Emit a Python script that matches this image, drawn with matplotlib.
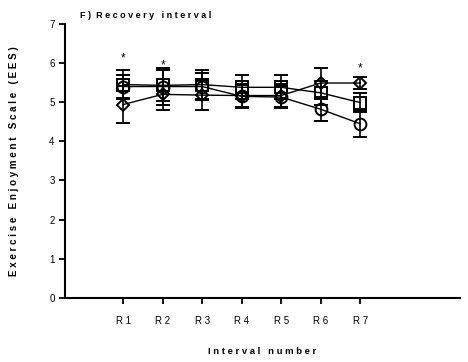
import matplotlib
matplotlib.use("Agg")
import matplotlib.pyplot as plt
import numpy as np

plt.rcParams['font.family'] = ['Liberation Sans', 'DejaVu Sans']

# data
intervals = ['R 1', 'R 2', 'R 3', 'R 4', 'R 5', 'R 6', 'R 7']
square_mean = [5.45, 5.43, 5.45, 5.38, 5.38, 5.24, 4.99]
square_err = [0.37, 0.39, 0.38, 0.31, 0.31, 0.30, 0.25]
circle_mean = [5.40, 5.40, 5.40, 5.15, 5.13, 4.82, 4.45]
circle_err = [0.30, 0.48, 0.35, 0.30, 0.28, 0.30, 0.34]
diamond_mean = [4.94, 5.20, 5.18, 5.17, 5.17, 5.49, 5.49]
diamond_err = [0.48, 0.40, 0.37, 0.30, 0.30, 0.39, 0.16]
star_idx = [0, 1, 6]
star_y = [6.12, 5.94, 5.87]

x = np.arange(1, len(intervals) + 1)

fig = plt.figure(figsize=(4.68, 3.62), dpi=100)
ax = fig.add_axes([0.139, 0.177, 0.844, 0.757])

series = [(square_mean, square_err, 's', 8),
          (circle_mean, circle_err, 'o', 8.5),
          (diamond_mean, diamond_err, 'D', 6.5)]
for mean, err, mk, ms in series:
    ax.errorbar(x, mean, yerr=err, color='black', lw=1.0, marker=mk, ms=ms,
                mfc='none', mec='black', mew=1.4, capsize=5, capthick=1.2,
                elinewidth=1.2)

for i, y in zip(star_idx, star_y):
    ax.text(x[i], y, '*', ha='center', va='center', fontsize=8.5)

ax.set_xlim(-0.47, 9.53)
ax.set_ylim(0, 7)
ax.set_xticks(x)
ax.set_xticklabels(intervals, fontsize=7)
ax.set_yticks(range(0, 8))
ax.tick_params(axis='y', labelsize=7, length=4, width=1.3, direction='out')
ax.tick_params(axis='x', length=4, width=1.3, direction='out', pad=9)
for side in ['top', 'right']:
    ax.spines[side].set_visible(False)
for side in ['left', 'bottom']:
    ax.spines[side].set_linewidth(1.5)

ax.set_ylabel('E x e r c i s e   E n j o y m e n t   S c a l e   ( E E S )',
              fontsize=7, fontweight='bold', labelpad=22)
ax.set_xlabel('I n t e r v a l   n u m b e r', fontsize=6.8, fontweight='bold', labelpad=15)
fig.text(0.171, 0.957, 'F )  R e c o v e r y   i n t e r v a l', fontsize=6.5,
         fontweight='bold', va='center', ha='left')

fig.savefig('out.png', dpi=100)
